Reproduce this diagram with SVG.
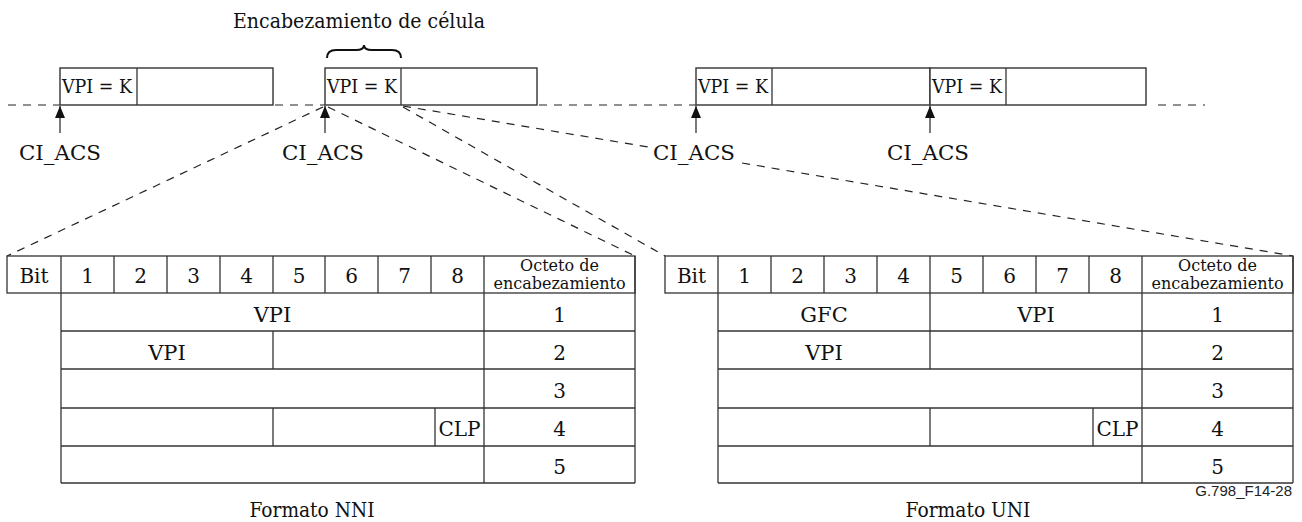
<svg xmlns="http://www.w3.org/2000/svg" width="1302" height="522" viewBox="0 0 1302 522">
<style>
text{font-family:'DejaVu Serif',serif;fill:#111;}
.m{text-anchor:middle;}
.box{fill:#fff;stroke:#333;stroke-width:1.4;}
.ln{stroke:#333;stroke-width:1.3;fill:none;}
.dash{stroke:#222;stroke-width:1.2;fill:none;stroke-dasharray:8 7;}
.lab{font-size:21px;}
.num{font-size:20px;}
.cell{font-size:18px;}
.oct{font-size:16px;}
.sans{font-family:'Liberation Sans',Arial,sans-serif;font-size:15px;fill:#222;text-anchor:end;}
</style>
<defs>
<marker id="ah" viewBox="0 0 12 10" refX="12" refY="5" markerWidth="12" markerHeight="10" markerUnits="userSpaceOnUse" orient="auto">
<path d="M0,0 L12,5 L0,10 Z" fill="#111"/>
</marker>
</defs>
<rect width="1302" height="522" fill="#fff"/>

<g id="title">
<text class="lab" x="233" y="28" textLength="252" lengthAdjust="spacingAndGlyphs">Encabezamiento de célula</text>
<path d="M327,58 Q327,50 336,50 L356,50 Q364,50 364,45 Q364,50 372,50 L392,50 Q401,50 401,58" fill="none" stroke="#111" stroke-width="2"/>
</g>

<g id="connectors">
<line class="dash" x1="8" y1="105" x2="60" y2="105"/>
<line class="dash" x1="275" y1="105" x2="325" y2="105"/>
<line class="dash" x1="539" y1="105" x2="696" y2="105"/>
<line class="dash" x1="1158" y1="105" x2="1205" y2="105"/>
<line class="dash" x1="323" y1="107" x2="7" y2="256"/>
<line class="dash" x1="328" y1="107" x2="635" y2="256"/>
<line class="dash" x1="403" y1="107" x2="665" y2="256"/>
<line class="dash" x1="403" y1="106" x2="648" y2="147"/>
<line class="dash" x1="742" y1="163" x2="1293" y2="256"/>
<line class="ln" x1="60" y1="133" x2="60" y2="106" marker-end="url(#ah)"/>
<line class="ln" x1="325" y1="133" x2="325" y2="106" marker-end="url(#ah)"/>
<line class="ln" x1="696" y1="133" x2="696" y2="106" marker-end="url(#ah)"/>
<line class="ln" x1="930" y1="133" x2="930" y2="106" marker-end="url(#ah)"/>
</g>

<g id="cell1">
<rect class="box" x="60" y="68" width="213" height="37"/>
<line class="ln" x1="137" y1="68" x2="137" y2="105"/>
<text class="cell" x="62" y="93" textLength="70" lengthAdjust="spacingAndGlyphs">VPI = K</text>
</g>
<g id="cell2">
<rect class="box" x="325" y="68" width="212" height="37"/>
<line class="ln" x1="401" y1="68" x2="401" y2="105"/>
<text class="cell" x="327" y="93" textLength="70" lengthAdjust="spacingAndGlyphs">VPI = K</text>
</g>
<g id="cell3">
<rect class="box" x="696" y="68" width="234" height="37"/>
<line class="ln" x1="772" y1="68" x2="772" y2="105"/>
<text class="cell" x="698" y="93" textLength="70" lengthAdjust="spacingAndGlyphs">VPI = K</text>
</g>
<g id="cell4">
<rect class="box" x="930" y="68" width="216" height="37"/>
<line class="ln" x1="1006" y1="68" x2="1006" y2="105"/>
<text class="cell" x="932" y="93" textLength="70" lengthAdjust="spacingAndGlyphs">VPI = K</text>
</g>

<g id="labels">
<text class="lab m" x="60" y="160" textLength="82" lengthAdjust="spacingAndGlyphs">CI_ACS</text>
<text class="lab m" x="323" y="160" textLength="82" lengthAdjust="spacingAndGlyphs">CI_ACS</text>
<text class="lab m" x="694" y="160" textLength="82" lengthAdjust="spacingAndGlyphs">CI_ACS</text>
<text class="lab m" x="928" y="160" textLength="82" lengthAdjust="spacingAndGlyphs">CI_ACS</text>
</g>

<g id="nni">
<g class="ln">
<rect x="7" y="256" width="628" height="37"/>
<line x1="61" y1="256" x2="61" y2="483"/>
<line x1="114" y1="256" x2="114" y2="293"/>
<line x1="167" y1="256" x2="167" y2="293"/>
<line x1="220" y1="256" x2="220" y2="293"/>
<line x1="273" y1="256" x2="273" y2="293"/>
<line x1="325" y1="256" x2="325" y2="293"/>
<line x1="378" y1="256" x2="378" y2="293"/>
<line x1="431" y1="256" x2="431" y2="293"/>
<line x1="484" y1="256" x2="484" y2="483"/>
<line x1="635" y1="256" x2="635" y2="483"/>
<line x1="61" y1="331" x2="635" y2="331"/>
<line x1="61" y1="369" x2="635" y2="369"/>
<line x1="61" y1="408" x2="635" y2="408"/>
<line x1="61" y1="446" x2="635" y2="446"/>
<line x1="61" y1="483" x2="635" y2="483"/>
<line x1="273" y1="331" x2="273" y2="369"/>
<line x1="273" y1="408" x2="273" y2="446"/>
<line x1="435" y1="408" x2="435" y2="446"/>
</g>
<text class="num m" x="34" y="283">Bit</text>
<text class="num m" x="87.5" y="283">1</text>
<text class="num m" x="140.5" y="283">2</text>
<text class="num m" x="193.5" y="283">3</text>
<text class="num m" x="246.5" y="283">4</text>
<text class="num m" x="299" y="283">5</text>
<text class="num m" x="351.5" y="283">6</text>
<text class="num m" x="404.5" y="283">7</text>
<text class="num m" x="457.5" y="283">8</text>
<text class="oct m" x="559.5" y="271">Octeto de<tspan x="559.5" y="289">encabezamiento</tspan></text>
<text class="lab m" x="272.5" y="322">VPI</text>
<text class="lab m" x="167" y="360">VPI</text>
<text class="num m" x="459.5" y="436">CLP</text>
<text class="num m" x="559.5" y="322">1</text>
<text class="num m" x="559.5" y="360">2</text>
<text class="num m" x="559.5" y="398">3</text>
<text class="num m" x="559.5" y="436">4</text>
<text class="num m" x="559.5" y="474">5</text>
<text class="lab m" x="312" y="517" textLength="125" lengthAdjust="spacingAndGlyphs">Formato NNI</text>
</g>

<g id="uni">
<g class="ln">
<rect x="665" y="256" width="628" height="37"/>
<line x1="718" y1="256" x2="718" y2="483"/>
<line x1="771" y1="256" x2="771" y2="293"/>
<line x1="824" y1="256" x2="824" y2="293"/>
<line x1="877" y1="256" x2="877" y2="293"/>
<line x1="930" y1="256" x2="930" y2="369"/>
<line x1="983" y1="256" x2="983" y2="293"/>
<line x1="1036" y1="256" x2="1036" y2="293"/>
<line x1="1089" y1="256" x2="1089" y2="293"/>
<line x1="1142" y1="256" x2="1142" y2="483"/>
<line x1="1293" y1="256" x2="1293" y2="483"/>
<line x1="718" y1="331" x2="1293" y2="331"/>
<line x1="718" y1="369" x2="1293" y2="369"/>
<line x1="718" y1="408" x2="1293" y2="408"/>
<line x1="718" y1="446" x2="1293" y2="446"/>
<line x1="718" y1="483" x2="1293" y2="483"/>
<line x1="930" y1="408" x2="930" y2="446"/>
<line x1="1093" y1="408" x2="1093" y2="446"/>
</g>
<text class="num m" x="691.5" y="283">Bit</text>
<text class="num m" x="744.5" y="283">1</text>
<text class="num m" x="797.5" y="283">2</text>
<text class="num m" x="850.5" y="283">3</text>
<text class="num m" x="903.5" y="283">4</text>
<text class="num m" x="956.5" y="283">5</text>
<text class="num m" x="1009.5" y="283">6</text>
<text class="num m" x="1062.5" y="283">7</text>
<text class="num m" x="1115.5" y="283">8</text>
<text class="oct m" x="1217.5" y="271">Octeto de<tspan x="1217.5" y="289">encabezamiento</tspan></text>
<text class="lab m" x="824" y="322">GFC</text>
<text class="lab m" x="1036" y="322">VPI</text>
<text class="lab m" x="824" y="360">VPI</text>
<text class="num m" x="1117.5" y="436">CLP</text>
<text class="num m" x="1217.5" y="322">1</text>
<text class="num m" x="1217.5" y="360">2</text>
<text class="num m" x="1217.5" y="398">3</text>
<text class="num m" x="1217.5" y="436">4</text>
<text class="num m" x="1217.5" y="474">5</text>
<text class="lab m" x="968" y="517" textLength="125" lengthAdjust="spacingAndGlyphs">Formato UNI</text>
<text class="sans" x="1292" y="496">G.798_F14-28</text>
</g>
</svg>
